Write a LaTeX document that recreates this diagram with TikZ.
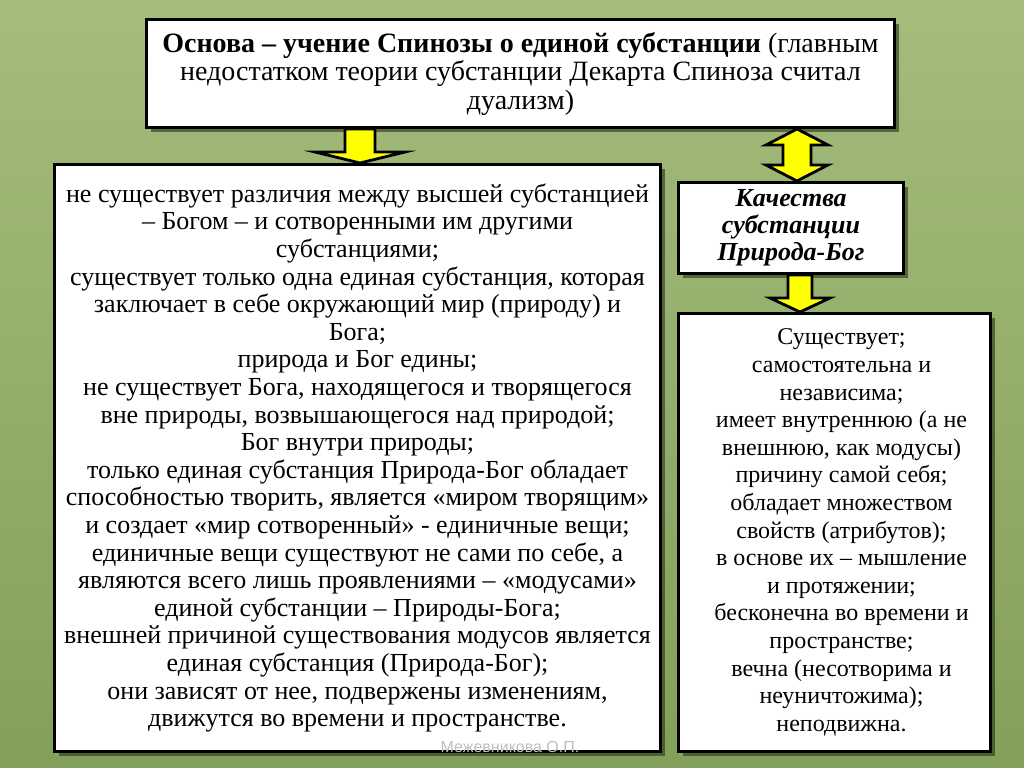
\documentclass[tikz,border=0pt]{standalone}
\usepackage{fontspec}
\setmainfont{Liberation Serif}
\newfontfamily\markfont{Liberation Sans}
\usetikzlibrary{calc,shadows}

\definecolor{bgtop}{HTML}{A4BC7C}
\definecolor{bgbot}{HTML}{83A05A}
\definecolor{arrfill}{HTML}{FFFF00}

% block arrows: from node, to node, x, shaft half, head half, head length (px)
\newcommand\blockdown[6]{%
  \draw[barrow] let \p1=(#1.south), \p2=(#2.north), \p3=(#3,0), \p4=(#4,0), \p5=(#5,0), \p6=(#6,0) in
    ({\x3-\x4},\y1) -- ({\x3+\x4},\y1) -- ({\x3+\x4},{\y2+\x6}) -- ({\x3+\x5},{\y2+\x6}) -- (\x3,\y2)
    -- ({\x3-\x5},{\y2+\x6}) -- ({\x3-\x4},{\y2+\x6}) -- cycle;}
\newcommand\blockboth[6]{%
  \draw[barrow] let \p1=(#1.south), \p2=(#2.north), \p3=(#3,0), \p4=(#4,0), \p5=(#5,0), \p6=(#6,0) in
    (\x3,\y1) -- ({\x3+\x5},{\y1-\x6}) -- ({\x3+\x4},{\y1-\x6}) -- ({\x3+\x4},{\y2+\x6}) -- ({\x3+\x5},{\y2+\x6})
    -- (\x3,\y2) -- ({\x3-\x5},{\y2+\x6}) -- ({\x3-\x4},{\y2+\x6}) -- ({\x3-\x4},{\y1-\x6}) -- ({\x3-\x5},{\y1-\x6}) -- cycle;}

\begin{document}
\begin{tikzpicture}[x=0.5pt,y=-0.5pt,
box/.style={draw,line width=1.5pt,fill=white,align=center,inner sep=0pt,anchor=north west,
  font=\fontsize{13}{13.8}\selectfont,drop shadow={shadow xshift=2pt,shadow yshift=-2pt,fill=black!70!bgbot,opacity=.6}},
barrow/.style={draw,line width=1.4pt,fill=arrfill,line join=miter}]
\shade[top color=bgtop,bottom color=bgbot] (0,0) rectangle (1024,767);
\useasboundingbox (0,0) rectangle (1024,767);

\node[box,minimum width=374pt,minimum height=54pt,font=\fontsize{14}{14.25}\selectfont] (basis) at (145,18)
  {\textbf{Основа – учение Спинозы о единой субстанции} (главным\\
   недостатком теории субстанции Декарта Спиноза считал\\ дуализм)};
\node[box,minimum width=303pt,minimum height=293.5pt] (teach) at (53,163)
  {не существует различия между высшей субстанцией\\
   – Богом – и сотворенными им другими\\
   субстанциями;\\
   существует только одна единая субстанция, которая\\
   заключает в себе окружающий мир (природу) и\\
   Бога;\\
   природа и Бог едины;\\
   не существует Бога, находящегося и творящегося\\
   вне природы, возвышающегося над природой;\\
   Бог внутри природы;\\
   только единая субстанция Природа-Бог обладает\\
   способностью творить, является «миром творящим»\\
   и создает «мир сотворенный» - единичные вещи;\\
   единичные вещи существуют не сами по себе, а\\
   являются всего лишь проявлениями – «модусами»\\
   единой субстанции – Природы-Бога;\\
   внешней причиной существования модусов является\\
   единая субстанция (Природа-Бог);\\
   они зависят от нее, подвержены изменениям,\\
   движутся во времени и пространстве.};
\node[box,minimum width=112.5pt,minimum height=45.5pt,font=\fontsize{13}{13.5}\selectfont\bfseries\itshape] (quality) at (677,181)
  {Качества\\ субстанции\\ Природа-Бог};
\node[box,minimum width=156pt,minimum height=219pt,font=\fontsize{12}{13.8}\selectfont] (props) at (677,312)
  {\hspace*{7pt}\begin{tabular}{@{}c@{}}Существует;\\
   самостоятельна и\\
   независима;\\
   имеет внутреннюю (а не\\
   внешнюю, как модусы)\\
   причину самой себя;\\
   обладает множеством\\
   свойств (атрибутов);\\
   в основе их – мышление\\
   и протяжении;\\
   бесконечна во времени и\\
   пространстве;\\
   вечна (несотворима и\\
   неуничтожима);\\
   неподвижна.\end{tabular}};

\blockdown{basis}{teach}{360}{15}{45}{11}
\blockboth{basis}{quality}{797}{14}{31}{16}
\blockdown{quality}{props}{800}{12}{30}{14}

\node[text=black!25,font=\markfont\fontsize{8}{8}\selectfont] (author) at (510,747) {Межевникова О.П.};
\end{tikzpicture}
\end{document}
